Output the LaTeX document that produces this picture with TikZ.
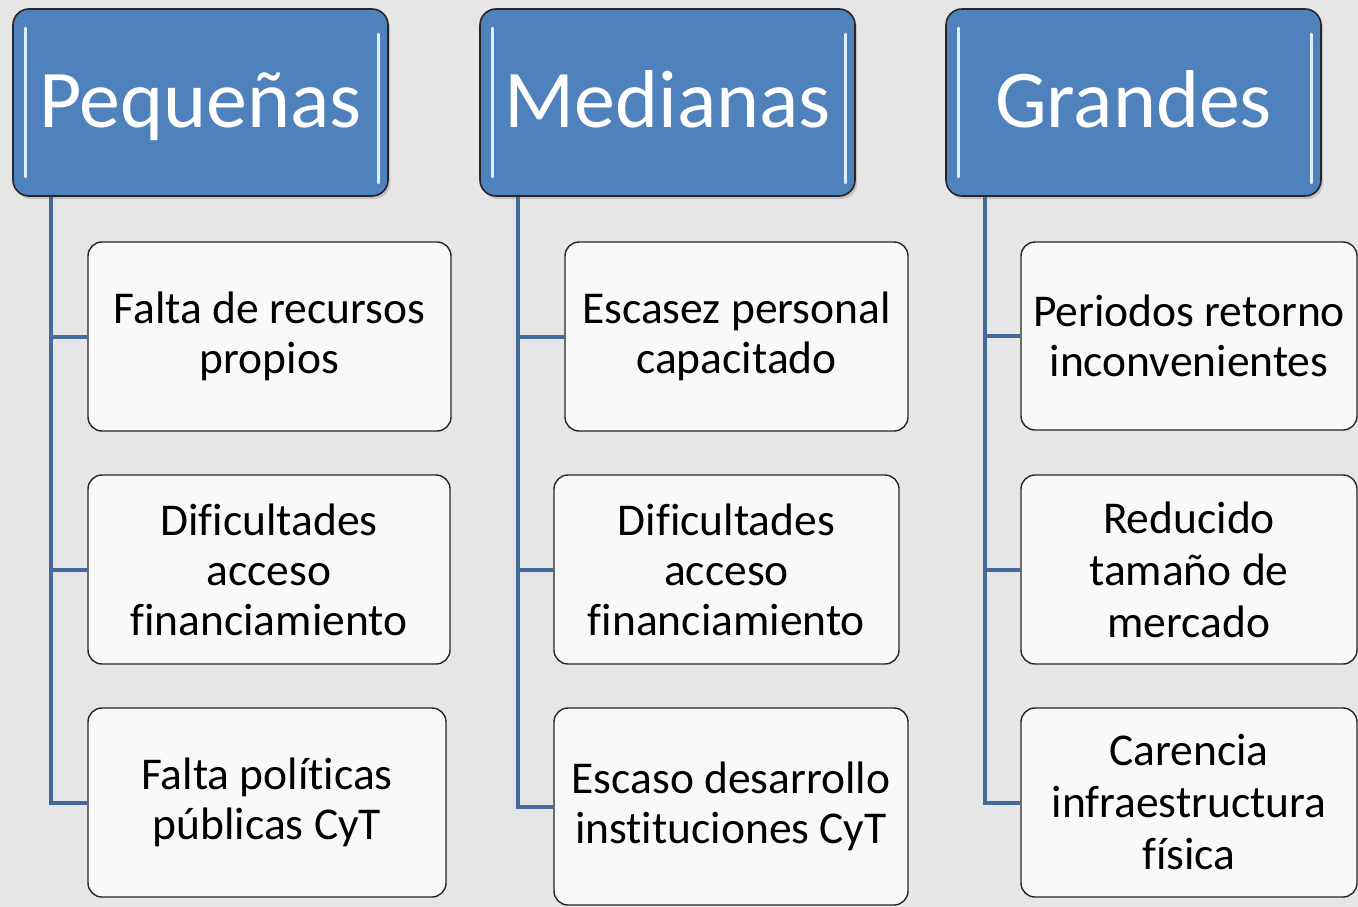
\documentclass[tikz,border=0pt]{standalone}
\usepackage{fontspec}
\setmainfont{Carlito}[Ligatures=NoCommon]
\usetikzlibrary{shadows,calc}
\definecolor{hblue}{HTML}{4F81BD}
\definecolor{lblue}{HTML}{44699C}
\definecolor{bg}{HTML}{E6E6E6}
\definecolor{boxfill}{HTML}{F9F9F9}
\definecolor{gloss}{HTML}{DDEEFF}
\tikzset{
  head/.style={draw=black!85, line width=1.6pt, rounded corners=16pt, fill=hblue,
    text=white, font=\fontsize{82}{90}\selectfont, inner sep=0pt,
    text height=60pt, text depth=11pt,
    minimum width=375pt, minimum height=187pt,
    drop shadow={opacity=0.35, shadow xshift=2pt, shadow yshift=-3pt}},
  item/.style={draw=black!85, line width=1.4pt, rounded corners=14pt, fill=boxfill,
    font=\fontsize{45.5}{50}\selectfont, align=center, inner sep=0pt},
  conn/.style={draw=lblue, line width=4pt},
  shine/.style={draw=gloss, line width=3.2pt, line cap=round}
}
\begin{document}
\begin{tikzpicture}[x=1pt,y=-1pt]
\fill[bg] (0,0) rectangle (1358,907);
\useasboundingbox (0,0) rectangle (1358,907);

% headers
\node[head] (h1) at (200.5,102.5) {Pequeñas};
\node[head] (h2) at (667.5,102.5) {Medianas};
\node[head] (h3) at (1133.5,102.5) {Grandes};

\foreach \h in {h1,h2,h3}{
  \draw[shine] ($(\h.north west)+(13,20)$) -- ($(\h.south west)+(13,-20)$);
  \draw[shine] ($(\h.north east)+(-10,26)$) -- ($(\h.south east)+(-10,-14)$);
}

% children column 1
\node[item, minimum width=363pt, minimum height=189pt] (c11) at (269.5,336.5) {Falta de recursos\\propios};
\node[item, minimum width=362pt, minimum height=189pt] (c12) at (269,569.5) {Dificultades\\acceso\\financiamiento};
\node[item, minimum width=358pt, minimum height=189pt] (c13) at (267,802.5) {Falta políticas\\públicas CyT};

% children column 2
\node[item, minimum width=343pt, minimum height=189pt] (c21) at (736.5,336.5) {Escasez personal\\capacitado};
\node[item, minimum width=345pt, minimum height=189pt] (c22) at (726.5,569.5) {Dificultades\\acceso\\financiamiento};
\node[item, minimum width=354pt, minimum height=197pt] (c23) at (731,806.5) {Escaso desarrollo\\instituciones CyT};

% children column 3
\node[item, minimum width=336pt, minimum height=188pt] (c31) at (1189,336) {Periodos retorno\\inconvenientes};
\node[item, minimum width=336pt, minimum height=189pt, font=\fontsize{45.5}{52}\selectfont] (c32) at (1189,569.5) {Reducido\\tamaño de\\mercado};
\node[item, minimum width=336pt, minimum height=189pt, font=\fontsize{45.5}{52}\selectfont] (c33) at (1189,802.5) {Carencia\\infraestructura\\física};

% connectors
\coordinate (t1) at ($(h1.south west)+(39,0)$);
\coordinate (t2) at ($(h2.south west)+(39,0)$);
\coordinate (t3) at ($(h3.south west)+(40,0)$);
\foreach \t/\c in {t1/c11,t1/c12,t1/c13,t2/c21,t2/c22,t2/c23,t3/c31,t3/c32,t3/c33}{
  \draw[conn] (\t) |- (\c.west);
}
\end{tikzpicture}
\end{document}
